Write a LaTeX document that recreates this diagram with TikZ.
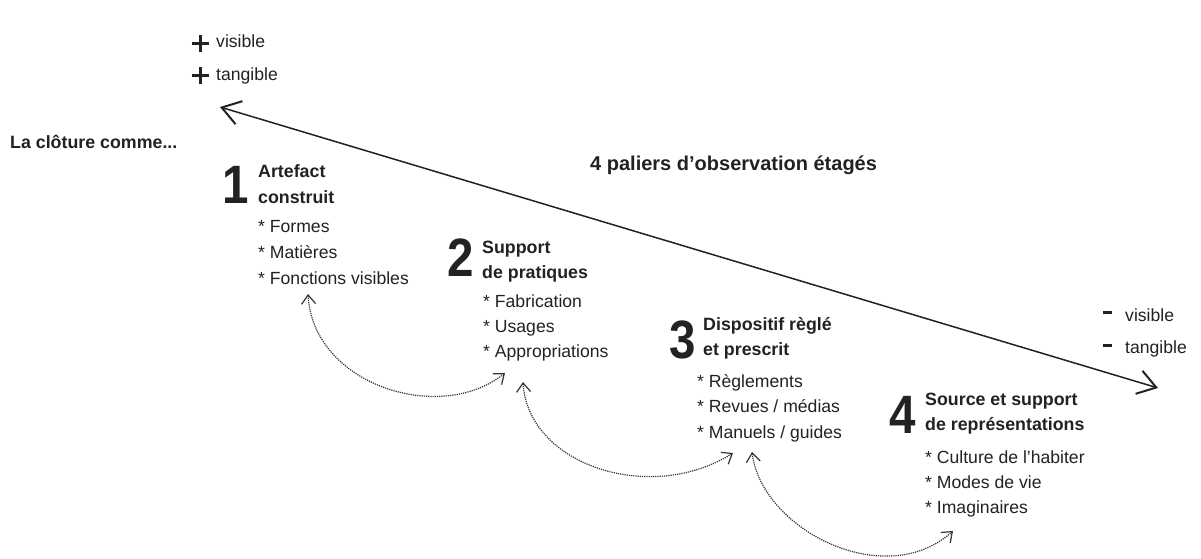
\documentclass[tikz,border=0pt]{standalone}
\usepackage{fontspec}
\setmainfont{Liberation Sans}
\newfontfamily\numfont[FakeStretch=0.88]{Liberation Sans}
\usetikzlibrary{arrows.meta}
\definecolor{ink}{HTML}{222222}
\definecolor{dots}{HTML}{333333}
\begin{document}
\begin{tikzpicture}[x=1pt,y=-1pt,
  txt/.style={inner sep=0pt, anchor=base west, text=ink, font=\fontsize{17.6}{20}\selectfont},
  ttl/.style={inner sep=0pt, anchor=base west, text=ink, font=\fontsize{17.8}{20}\selectfont\bfseries},
  head/.style={inner sep=0pt, anchor=base west, text=ink, font=\fontsize{20}{22}\selectfont\bfseries},
  num/.style={inner sep=0pt, anchor=base west, text=ink, font=\numfont\fontsize{54}{54}\selectfont\bfseries},
  axis/.style={draw=ink, line width=1.5pt,
    {Straight Barb[length=18pt,width=24pt,line width=2pt]}-{Straight Barb[length=18pt,width=24pt,line width=2pt]}},
  link/.style={draw=dots, line width=1.2pt, densely dotted,
    {Straight Barb[length=9pt,width=14pt,line width=1.2pt]}-{Straight Barb[length=9pt,width=14pt,line width=1.2pt]}},
  sign/.style={draw=ink, line width=3pt},
]
\useasboundingbox[fill=white] (0,0) rectangle (1201,559);

% top-left legend
\node[txt] (vplus) at (216,48) {visible};
\node[txt] (tplus) at (216,81) {tangible};
\draw[sign] (191.5,44) -- (208.5,44) (200,35.5) -- (200,52.5);
\draw[sign] (191.5,76) -- (208.5,76) (200,67.5) -- (200,84.5);

% bottom-right legend
\node[txt] (vminus) at (1125,321) {visible};
\node[txt] (tminus) at (1125,353) {tangible};
\draw[sign] (1103,312) -- (1112,312);
\draw[sign] (1103,345) -- (1112,345);

% headings
\node[ttl] (intro) at (10,148) {La clôture comme...};
\node[head] (paliers) at (590,170) {4 paliers d’observation étagés};

% axis
\coordinate (axL) at (220,107);
\coordinate (axR) at (1158,388);
\draw[axis] (axL) -- (axR);

% block 1
\node[num] (n1) at (222,203) {1};
\node[ttl] (t1a) at (258,177) {Artefact};
\node[ttl] (t1b) at (258,203) {construit};
\node[txt] (i1a) at (258,232) {* Formes};
\node[txt] (i1b) at (258,258) {* Matières};
\node[txt] (i1c) at (258,284) {* Fonctions visibles};

% block 2
\node[num] (n2) at (447,276) {2};
\node[ttl] (t2a) at (482,253) {Support};
\node[ttl] (t2b) at (482,278) {de pratiques};
\node[txt] (i2a) at (483,307) {* Fabrication};
\node[txt] (i2b) at (483,332) {* Usages};
\node[txt] (i2c) at (483,357) {* Appropriations};

% block 3
\node[num] (n3) at (669,358) {3};
\node[ttl] (t3a) at (703,330) {Dispositif règlé};
\node[ttl] (t3b) at (703,355) {et prescrit};
\node[txt] (i3a) at (697,387) {* Règlements};
\node[txt] (i3b) at (697,412) {* Revues / médias};
\node[txt] (i3c) at (697,438) {* Manuels / guides};

% block 4
\node[num] (n4) at (889,433) {4};
\node[ttl] (t4a) at (925,405) {Source et support};
\node[ttl] (t4b) at (925,430) {de représentations};
\node[txt] (i4a) at (925,463) {* Culture de l’habiter};
\node[txt] (i4b) at (925,488) {* Modes de vie};
\node[txt] (i4c) at (925,513) {* Imaginaires};

% dotted links
\coordinate (l1a) at (308,294);
\coordinate (l1b) at (505,373);
\coordinate (l2a) at (523,382);
\coordinate (l2b) at (733,453);
\coordinate (l3a) at (752,452);
\coordinate (l3b) at (953,531);
\draw[link] (l1a) .. controls (313,385) and (440,425) .. (l1b);
\draw[link] (l2a) .. controls (528,465) and (650,505) .. (l2b);
\draw[link] (l3a) .. controls (762,530) and (885,592) .. (l3b);
\end{tikzpicture}
\end{document}
